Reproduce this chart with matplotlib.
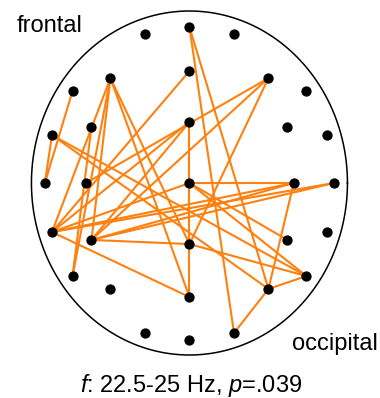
import numpy as np
import matplotlib
matplotlib.use("Agg")
import matplotlib.pyplot as plt

plt.rcParams['font.family'] = 'Liberation Sans'
plt.rcParams['mathtext.fontset'] = 'custom'
plt.rcParams['mathtext.rm'] = 'Liberation Sans'
plt.rcParams['mathtext.it'] = 'Liberation Sans:italic'

# electrode layout (head = unit circle), numbered 1..31 top to bottom
elec_x = [0.0, -0.282, 0.282, -0.5, 0.0, 0.5, -0.74, 0.74, -0.62, 0.0, 0.62,
          -0.87, 0.87, -0.915, -0.655, 0.0, 0.66, 0.915, -0.87, -0.62, 0.0, 0.62,
          0.87, -0.74, 0.74, -0.5, 0.0, 0.5, -0.282, 0.0, 0.282]
elec_y = [0.907, 0.866, 0.866, 0.61, 0.651, 0.61, 0.535, 0.535, 0.326, 0.355, 0.326,
          0.279, 0.279, 0.0, 0.0, 0.0, 0.0, 0.0, -0.285, -0.331, -0.355, -0.331,
          -0.285, -0.541, -0.541, -0.616, -0.663, -0.616, -0.872, -0.913, -0.872]

# significant connections (electrode numbers)
edges = [(1, 31), (1, 28), (4, 19), (4, 20), (4, 24), (4, 27), (4, 21),
         (5, 19), (6, 15), (6, 20), (6, 21), (7, 14), (12, 14), (9, 24),
         (10, 16), (10, 19), (10, 20), (12, 25), (12, 28), (16, 17), (16, 21),
         (21, 27), (17, 28), (25, 28), (28, 31), (19, 27), (19, 16), (19, 17),
         (20, 17), (20, 18), (19, 18), (16, 22), (16, 25), (21, 25), (20, 21)]

fig = plt.figure(figsize=(3.8, 3.98), dpi=100)
ax = fig.add_axes([0, 0, 1, 1])
ax.set_xlim(-1.199, 1.206)
ax.set_ylim(-1.25, 1.064)
ax.axis('off')

t = np.linspace(0, 2 * np.pi, 400)
ax.plot(np.cos(t), np.sin(t), color='black', lw=1.1)

for a, b in edges:
    ax.plot([elec_x[a - 1], elec_x[b - 1]], [elec_y[a - 1], elec_y[b - 1]],
            color='#ff800e', lw=1.5, solid_capstyle='round', zorder=2)

ax.plot(elec_x, elec_y, 'o', color='black', markersize=6.4, zorder=3)

fig.text(17 / 380, 1 - 32 / 398, 'frontal', fontsize=17, va='baseline')
fig.text(292 / 380, 1 - 350 / 398, 'occipital', fontsize=17, va='baseline')
fig.text(0.504, 1 - 392 / 398, '$f$: 22.5-25 Hz, $p$=.039', fontsize=17,
         ha='center', va='baseline')

fig.savefig('out.png', dpi=100)
